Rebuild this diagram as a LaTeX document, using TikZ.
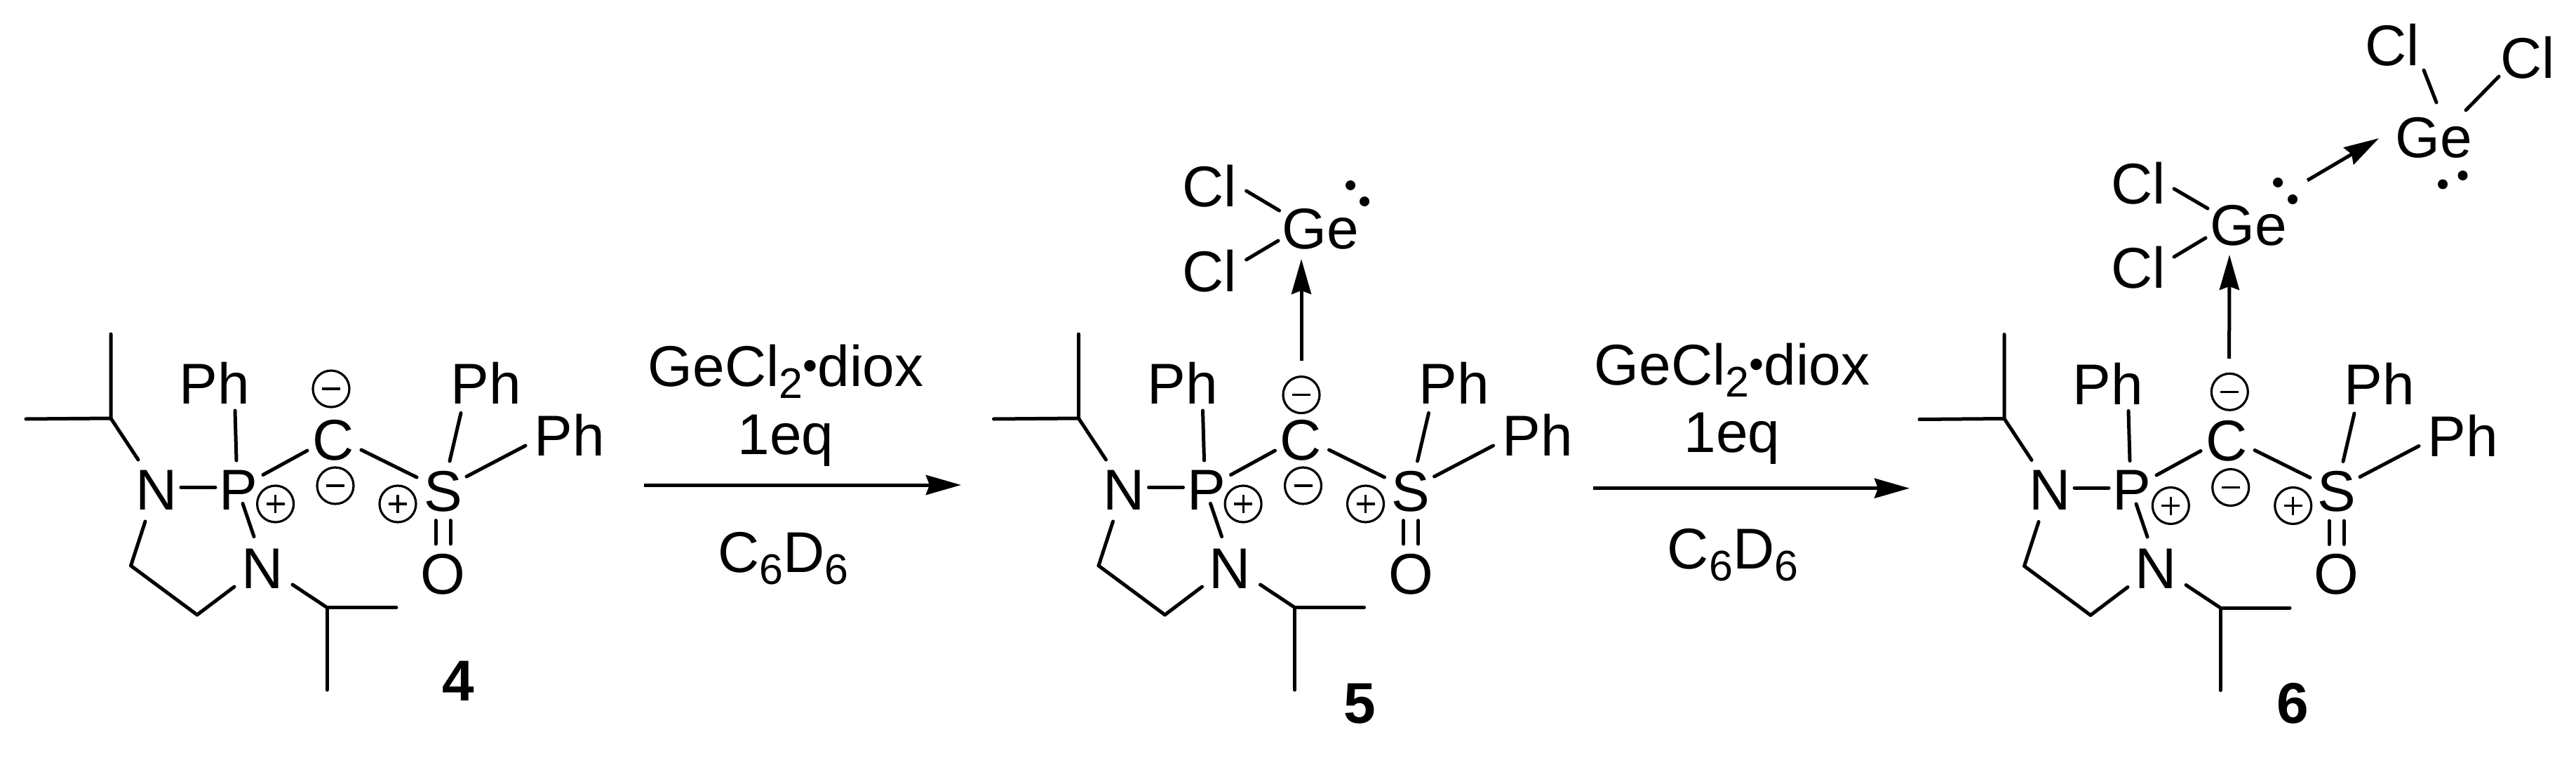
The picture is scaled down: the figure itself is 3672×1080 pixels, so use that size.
\documentclass[tikz,border=0pt]{standalone}
\usepackage{fontspec}
\setmainfont{Liberation Sans}
\usetikzlibrary{arrows.meta}
\tikzset{
  atom/.style={inner sep=0pt,outer sep=0pt,anchor=center,font=\fontsize{41}{41}\selectfont},
  lab/.style={inner sep=0pt,outer sep=0pt,anchor=base,font=\fontsize{41}{41}\selectfont},
  num/.style={inner sep=0pt,outer sep=0pt,anchor=center,font=\fontsize{41}{41}\selectfont\bfseries},
  bond/.style={line width=2.5pt,line cap=round,line join=round},
  chg/.style={circle,draw,line width=1.6pt,minimum size=26pt,inner sep=0pt,outer sep=0pt},
  dotty/.style={circle,fill=black,minimum size=7pt,inner sep=0pt,outer sep=0pt},
  dat/.style={-{Stealth[length=25pt,width=14pt,inset=2.5pt]},line width=2.5pt},
}
\newcommand{\bnd}[6]{\draw[bond] ([shift={(#2,#3)}]#1.center) -- ([shift={(#5,#6)}]#4.center);}
\newcommand{\chmark}[4]{%
  \node[chg] (#1) at (#2,#3) {};
  \draw[line width=1.6pt] ([shift={(-13,0)}]#1.center) -- ([shift={(13,0)}]#1.center);
  \if#4p\draw[line width=1.6pt] ([shift={(0,-13)}]#1.center) -- ([shift={(0,13)}]#1.center);\fi
}
% #1 prefix, #2 #3 shift, #4 #5 extra shift of the top minus, #6 #7 extra shift of the other charges
\newcommand{\molecule}[7]{%
\begin{scope}[shift={(#2,#3)}]
  \node[atom] (#1N) at (223,698) {N};
  \node[atom] (#1P) at (340,698) {P};
  \node[atom] (#1Ph) at (306,546) {Ph};
  \node[atom] (#1C) at (475,627.5) {C};
  \node[atom] (#1S) at (631.5,700) {S};
  \node[atom] (#1PhA) at (693,546) {Ph};
  \node[atom] (#1PhB) at (812,620) {Ph};
  \node[atom] (#1O) at (631.5,818) {O};
  \node[atom] (#1M) at (374,810) {N};
  \coordinate (#1a) at (186.5,806);
  \coordinate (#1b) at (281,876);
  \coordinate (#1c) at (158,596);
  \coordinate (#1d) at (158,476);
  \coordinate (#1e) at (37,597);
  \coordinate (#1f) at (466,865.5);
  \coordinate (#1g) at (565,865.5);
  \coordinate (#1h) at (466,983);
  \chmark{#1cm}{472+#4}{554+#5}{m}
  \chmark{#1cn}{478+#6}{692+#7}{m}
  \chmark{#1cp}{392.6+#6}{718+#7}{p}
  \chmark{#1cs}{567+#6}{718+#7}{p}
  \draw[bond] (#1d) -- (#1c) -- (#1e);
  \bnd{#1c}{0}{0}{#1N}{-26}{-43}
  \bnd{#1N}{35}{-3.5}{#1P}{-33}{-3.5}
  \bnd{#1Ph}{29}{39}{#1P}{-3}{-42}
  \bnd{#1P}{35}{-21.5}{#1C}{-37}{14.5}
  \bnd{#1C}{40}{13.5}{#1S}{-37.5}{-20}
  \bnd{#1PhA}{-36}{42.5}{#1S}{9.5}{-43}
  \bnd{#1PhB}{-63}{15}{#1S}{33.5}{-21}
  \bnd{#1S}{-10.5}{41.6}{#1O}{-10.5}{-43}
  \bnd{#1S}{10.5}{41.6}{#1O}{10.5}{-43}
  \bnd{#1P}{6}{19.5}{#1M}{-12}{-45.5}
  \bnd{#1N}{-16}{45}{#1a}{0}{0}
  \draw[bond] (#1a) -- (#1b);
  \bnd{#1b}{0}{0}{#1M}{-40}{26}
  \bnd{#1M}{43}{23}{#1f}{0}{0}
  \draw[bond] (#1g) -- (#1f) -- (#1h);
\end{scope}}
\newcommand{\subs}[1]{\raisebox{-8.5pt}{\fontsize{30.5}{30.5}\selectfont #1}}
% #1 tag, #2 centre of top two lines, #3 centre of solvent, #4 #5 #6 baselines, #7 #8 arrow ends, #9 arrow y
\newcommand{\reagent}[9]{%
  \node[lab] (r#1a) at (#2,#4) {GeCl\subs{2}\raisebox{4.5pt}{\fontsize{30}{30}\selectfont\textbullet}diox};
  \node[lab] (r#1b) at (#2,#5) {1eq};
  \node[lab] (r#1c) at (#3,#6) {C\subs{6}D\subs{6}};
  \coordinate (r#1s) at (#7,#9);
  \coordinate (r#1e) at (#8,#9);
  \draw[dat] (r#1s) -- (r#1e);
}
\begin{document}
\begin{tikzpicture}[x=0.5pt,y=-0.5pt]
\useasboundingbox (0,0) rectangle (3672,1080);
\molecule{x}{0}{0}{0}{0}{0}{0}
\molecule{y}{1379.5}{0}{3.5}{8.6}{0}{0}
\molecule{z}{2699}{0.5}{7.3}{3.8}{2.7}{2}
\node[num] (n4) at (653,970) {4};
\node[num] (n5) at (1938,1003) {5};
\node[num] (n6) at (3268,1002) {6};
\reagent{A}{1120}{1116.5}{550}{647}{815}{918}{1370}{691}
\reagent{B}{2469}{2470}{548}{644}{810}{2271}{2722}{695.7}
% complex 5
\node[atom] (ge5) at (1882,326) {Ge};
\node[atom] (cl5a) at (1724,265) {Cl};
\node[atom] (cl5b) at (1724,386) {Cl};
\node[dotty] (d5a) at (1925,264) {};
\node[dotty] (d5b) at (1945,287) {};
\bnd{cl5a}{52.6}{7}{ge5}{-58.4}{-26}
\bnd{cl5b}{52.6}{-16}{ge5}{-60}{17}
\draw[dat] ([shift={(0.5,-113.5)}]yC.center) -- ([shift={(-27,43)}]ge5.center);
% complex 6
\node[atom] (ge6) at (3205,321) {Ge};
\node[atom] (cl6a) at (3048,261) {Cl};
\node[atom] (cl6b) at (3048,381) {Cl};
\node[dotty] (d6a) at (3247,260) {};
\node[dotty] (d6b) at (3268,284) {};
\bnd{cl6a}{51}{8}{ge6}{-58}{-24}
\bnd{cl6b}{51}{-15}{ge6}{-61}{18}
\draw[dat] ([shift={(3.6,-117)}]zC.center) -- ([shift={(-27,42)}]ge6.center);
\node[atom] (ge7) at (3469,196) {Ge};
\node[atom] (cl7a) at (3410,64) {Cl};
\node[atom] (cl7b) at (3603,82) {Cl};
\node[dotty] (d7a) at (3510.5,250) {};
\node[dotty] (d7b) at (3482,262.5) {};
\bnd{cl7a}{45}{36}{ge7}{4}{-50}
\bnd{cl7b}{-41}{27}{ge7}{46}{-39}
\draw[dat] ([shift={(84,-64)}]ge6.center) -- ([shift={(-78,1)}]ge7.center);
\end{tikzpicture}
\end{document}
